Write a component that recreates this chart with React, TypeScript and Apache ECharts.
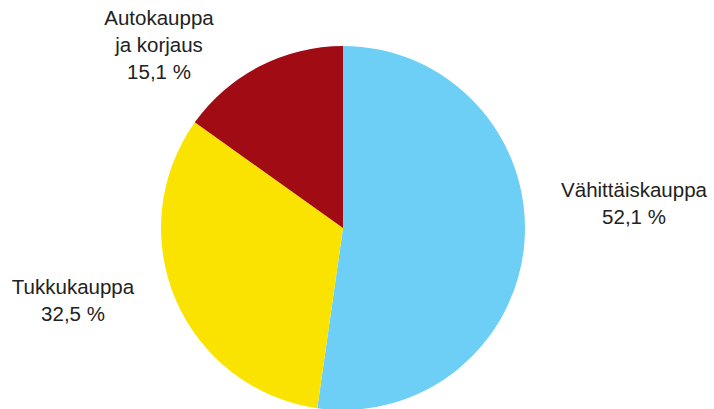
import React, { useEffect, useRef } from "react";
import * as echarts from "echarts";

const categories = ["Vähittäiskauppa", "Tukkukauppa", "Autokauppa\nja korjaus"];
const values = [52.1, 32.5, 15.1];
const colors = ["#6dcff6", "#fae300", "#a00b14"];
const labelPos = [
  [634, 203],
  [73, 300],
  [159, 44],
];

export default function App() {
  const ref = useRef<HTMLDivElement>(null);
  useEffect(() => {
    document.body.style.margin = "0";
    const chart = echarts.init(ref.current!, null, { renderer: "svg" });
    chart.setOption({
      animation: false,
      backgroundColor: "#ffffff",
      series: [
        {
          type: "pie",
          center: [343, 228],
          radius: 182,
          startAngle: 90,
          clockwise: true,
          avoidLabelOverlap: false,
          data: categories.map((c, i) => ({
            name: c,
            value: values[i],
            itemStyle: { color: colors[i] },
          })),
          label: {
            show: true,
            position: "outside",
            overflow: "none",
            formatter: (p: any) =>
              p.name + "\n" + p.value.toFixed(1).replace(".", ",") + " %",
            fontFamily: "Liberation Sans, Arial, sans-serif",
            fontSize: 20.5,
            lineHeight: 27,
            color: "#222222",
            align: "center",
          },
          labelLine: { show: false },
          labelLayout: (params: any) => ({
            x: labelPos[params.dataIndex][0],
            y: labelPos[params.dataIndex][1],
            align: "center",
            verticalAlign: "middle",
          }),
          emphasis: { disabled: true },
        },
      ],
    });
    return () => chart.dispose();
  }, []);
  return <div ref={ref} style={{ width: 714, height: 409 }} />;
}
